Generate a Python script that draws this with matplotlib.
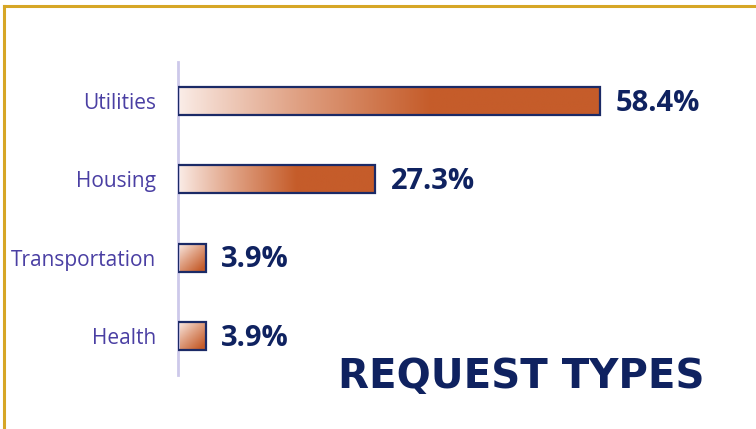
import numpy as np
import matplotlib
matplotlib.use("Agg")
import matplotlib.pyplot as plt
from matplotlib.colors import LinearSegmentedColormap
from matplotlib.lines import Line2D

categories = ["Utilities", "Housing", "Transportation", "Health"]
shares = [58.4, 27.3, 3.9, 3.9]
value_labels = ["58.4%", "27.3%", "3.9%", "3.9%"]
title = "REQUEST TYPES"

navy = "#0f2260"
label_col = "#4a3fa3"
edge_col = "#1b2a66"
grad = LinearSegmentedColormap.from_list("g", ["#fbeee9", "#e0a285", "#c55c2a"])

fig = plt.figure(figsize=(7.56, 4.29), dpi=100)
ax = fig.add_axes([178 / 756, 1 - 375 / 429, (745 - 178) / 756, 313 / 429])
ax.set_xlim(0, (745 - 178) / 7.226)
ax.set_ylim(3.5, -0.5)

h = 0.36
ys = np.arange(len(categories))
bars = ax.barh(ys, shares, height=h, color="none", edgecolor=edge_col, linewidth=1.6, zorder=3)

# gradient fill clipped to each bar
for b, v in zip(bars, shares):
    x0, y0 = b.get_x(), b.get_y()
    w, hh = b.get_width(), b.get_height()
    xx, yy = np.meshgrid(np.linspace(0, 1, 300), np.linspace(0, 1, 40))
    if v > 10:
        t = np.clip(xx / 0.6, 0, 1) ** 0.9
    else:
        t = np.clip(0.55 * xx + 0.6 * yy, 0, 1)
    im = ax.imshow(t, cmap=grad, vmin=0, vmax=1, aspect="auto",
                   extent=[x0, x0 + w, y0, y0 + hh], origin="lower",
                   interpolation="bilinear", zorder=2)
    im.set_clip_path(b)

for y, v, s in zip(ys, shares, value_labels):
    ax.text(v + 2.1, y + 0.03, s, va="center", ha="left", fontsize=21,
            fontweight="bold", color=navy, family="Open Sans")

ax.set_yticks(ys)
ax.set_yticklabels(categories, fontsize=15, color=label_col, family="Open Sans")
ax.tick_params(axis="y", length=0, pad=16)
ax.set_xticks([])
for side in ["top", "right", "bottom"]:
    ax.spines[side].set_visible(False)
ax.spines["left"].set_color("#cdc9ea")
ax.spines["left"].set_linewidth(2)

fig.text(705 / 756, 1 - 388 / 429, title, ha="right", va="baseline", fontsize=29,
         fontweight="bold", color=navy, family="DejaVu Sans")

# gold frame on top and left
fig.add_artist(Line2D([3.5 / 756, 1], [1 - 5.5 / 429] * 2, color="#d6a626", lw=2.2))
fig.add_artist(Line2D([3.5 / 756] * 2, [0, 1 - 5.5 / 429], color="#d6a626", lw=2.2))

fig.savefig("out.png", dpi=100)
